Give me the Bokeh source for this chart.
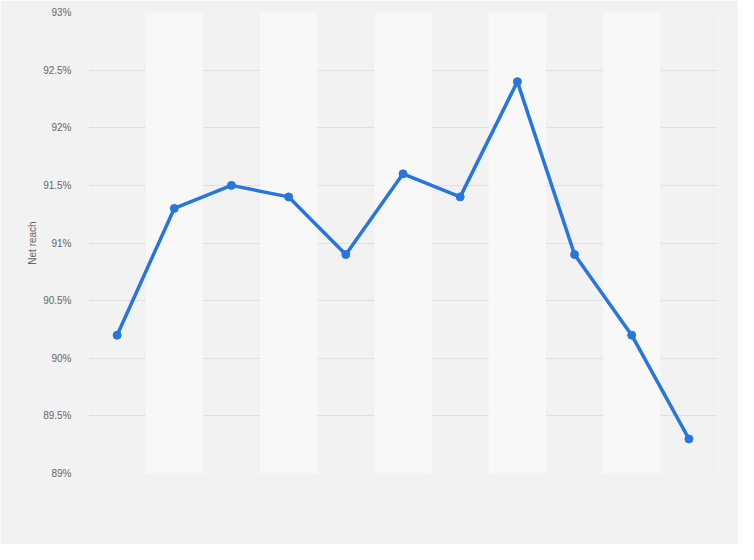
from bokeh.plotting import figure
from bokeh.models import ColumnDataSource, FixedTicker, Range1d, FactorRange
from bokeh.embed import file_html
from bokeh.resources import INLINE

categories = [str(i) for i in range(1, 12)]
net_reach = [90.2, 91.3, 91.5, 91.4, 90.9, 91.6, 91.4, 92.4, 90.9, 90.2, 89.3]
y_ticks = [89, 89.5, 90, 90.5, 91, 91.5, 92, 92.5, 93]
y_labels = {89: "89%", 89.5: "89.5%", 90: "90%", 90.5: "90.5%", 91: "91%",
            91.5: "91.5%", 92: "92%", 92.5: "92.5%", 93: "93%"}

BG = "#f2f2f2"
BAND = "#f8f8f8"

p = figure(width=738, height=544, x_range=FactorRange(*categories), y_range=Range1d(89, 93),
           output_backend="svg", toolbar_location=None,
           min_border_left=88, min_border_right=21, min_border_top=12, min_border_bottom=71)
p.background_fill_color = BG
p.border_fill_color = BG
p.outline_line_color = None

# alternating bands
band_src = ColumnDataSource(dict(x=categories[1::2]))
p.vbar(x="x", width=1.0, bottom=89, top=93, source=band_src, fill_color=BAND, line_color=None)

src = ColumnDataSource(dict(x=categories, y=net_reach))
p.line(x="x", y="y", source=src, line_color="#2876dd", line_width=3.5)
p.scatter(x="x", y="y", source=src, size=8, fill_color="#2876dd", line_color="#2876dd")

p.xgrid.visible = False
p.ygrid.grid_line_color = "#cfcfcf"
p.ygrid.grid_line_dash = "1 1"
p.ygrid.grid_line_width = 1

p.yaxis.ticker = FixedTicker(ticks=y_ticks)
p.yaxis.major_label_overrides = y_labels
p.yaxis.axis_line_color = None
p.yaxis.major_tick_line_color = None
p.yaxis.minor_tick_line_color = None
p.yaxis.major_label_text_color = "#666666"
p.yaxis.major_label_text_font = "Liberation Sans"
p.yaxis.major_label_text_font_size = "10px"
p.yaxis.major_label_standoff = 11
p.yaxis.axis_label = "Net reach"
p.yaxis.axis_label_text_font = "Liberation Sans"
p.yaxis.axis_label_text_font_size = "10px"
p.yaxis.axis_label_text_font_style = "normal"
p.yaxis.axis_label_text_color = "#666666"
p.yaxis.axis_label_standoff = 2

p.xaxis.visible = False

html = file_html(p, INLINE)
html = html.replace("<body>", '<body style="background:#f2f2f2;">', 1)
open("out.html", "w").write(html)
